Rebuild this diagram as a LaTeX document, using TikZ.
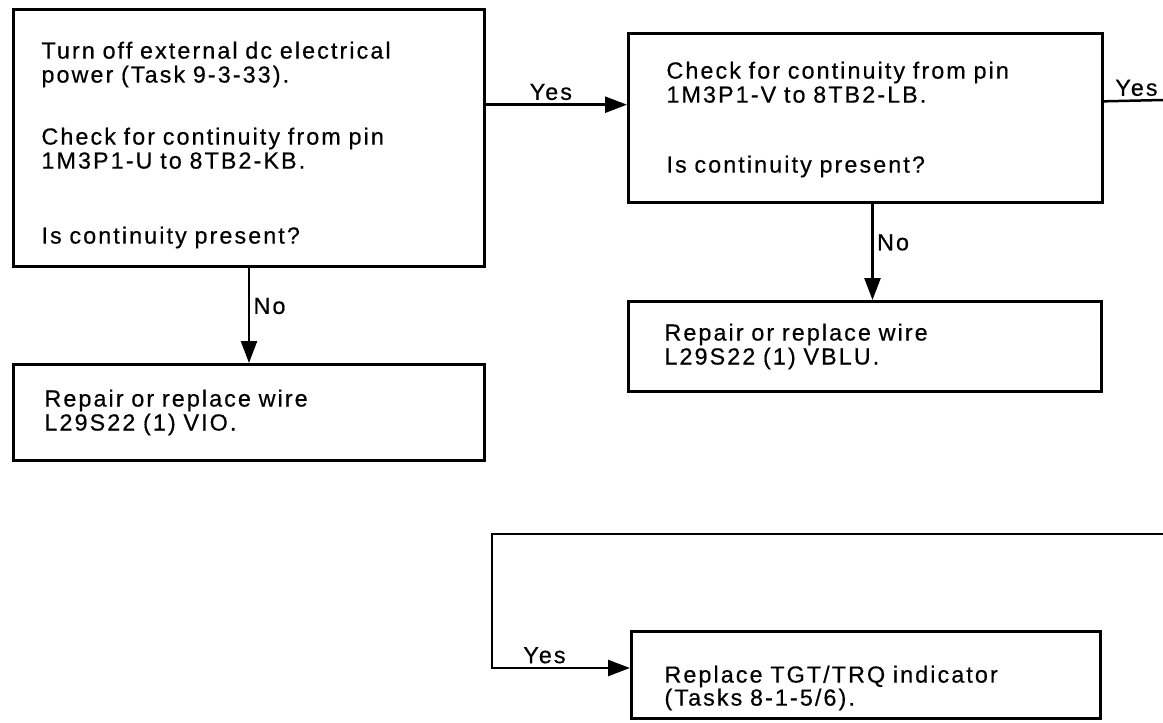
\documentclass[tikz,border=0pt]{standalone}
\usepackage{fontspec}
\setmainfont{Liberation Sans}[LetterSpace=9,FakeBold=0.5]
\usetikzlibrary{arrows.meta}

\begin{document}
\begin{tikzpicture}[x=1pt,y=-1pt]
\tikzstyle{box}=[draw,line width=3pt,anchor=north west,align=left,inner ysep=0pt,font=\fontsize{23.3}{24}\selectfont]
\tikzstyle{lab}=[font=\fontsize{23.3}{24}\selectfont]
\tikzstyle{wire}=[line width=2.5pt]
\tikzstyle{arr}=[wire,-{Triangle[length=22pt,width=16pt]}]
   \useasboundingbox (0,0) rectangle (1163,723);

   \node (q1) [box,minimum width=471pt,minimum height=257pt,inner xsep=28pt,text width=415pt] at (12,8)
      {\rule{0pt}{31pt}Turn off external dc electrical\\ power (Task 9-3-33).\\[38pt]
       Check for continuity from pin\\ 1M3P1-U to 8TB2-KB.\\[51pt] Is continuity present?};
   \node (q2) [box,minimum width=471pt,minimum height=96pt,inner xsep=31pt,text width=409pt] at (12,363)
      {Repair or replace wire\\ L29S22 (1) VIO.};
   \node (q3) [box,minimum width=474pt,minimum height=169pt,inner xsep=38pt,text width=398pt] at (627,32)
      {\rule{0pt}{20pt}Check for continuity from pin\\ 1M3P1-V to 8TB2-LB.\\[46pt] Is continuity present?};
   \node (q4) [box,minimum width=473pt,minimum height=90pt,inner xsep=36pt,text width=401pt] at (627,300)
      {Repair or replace wire\\ L29S22 (1) VBLU.};
   \node (q5) [box,minimum width=469pt,minimum height=87pt,inner xsep=33pt,text width=403pt] at (630,630)
      {\rule{0pt}{43pt}Replace TGT/TRQ indicator\\[-1pt] (Tasks 8-1-5/6).};

   \coordinate (out1) at (1163,100);
   \coordinate (in1) at (1163,534);
   \coordinate (bend) at (492,534);

   \draw [arr] (q1.8) -- (q1.8 -| q3.west) node [lab,pos=0.46,above] {Yes};
   \draw [arr] (q1) -- (q2) node [lab,pos=0.4,right] {No};
   \draw [wire] (q3.4) -- (out1) node [lab,pos=0.55,above] {Yes};
   \draw [arr] ([xshift=7pt]q3.south) -- ([xshift=7pt]q3.south |- q4.north) node [lab,pos=0.4,right] {No};
   \draw [arr] (in1) -- (bend) |- ([yshift=7pt]q5.west) node [lab,pos=0.69,above] {Yes};
\end{tikzpicture}
\end{document}
